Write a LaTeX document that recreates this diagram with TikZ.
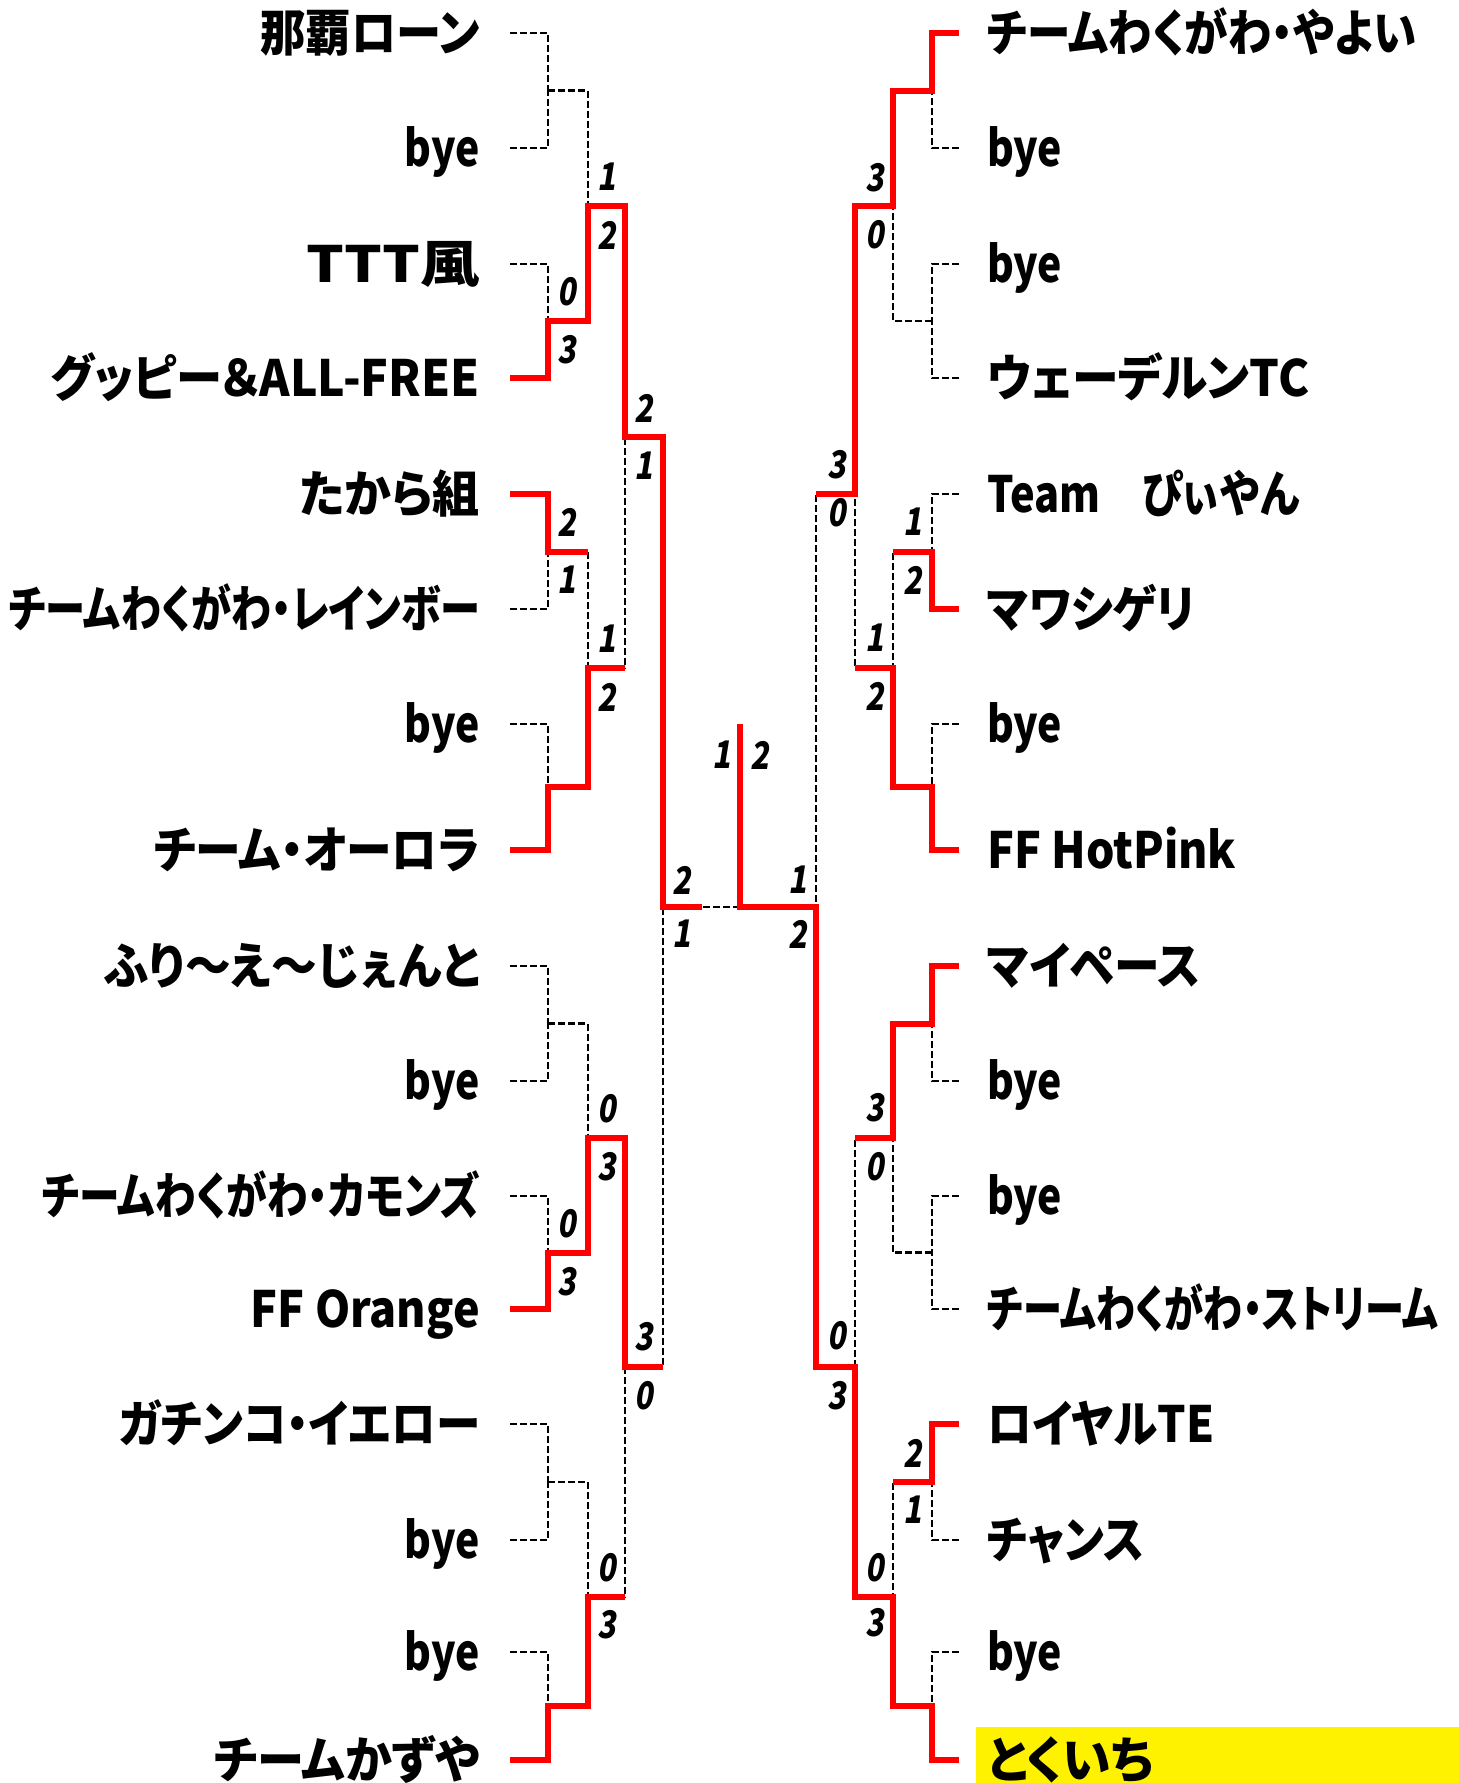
\documentclass[tikz,border=0pt]{standalone}
\usepackage{graphicx}
\usepackage{fontspec}
\newfontfamily\jpf[RawFeature={+palt}]{Noto Sans CJK JP Black}
\newfontfamily\digf[FakeSlant=0.16,FakeStretch=0.8]{Noto Sans CJK JP Black}
\newsavebox\fitbox
\newcommand\fitw[2]{\sbox\fitbox{#2}\pgfmathsetmacro\fitratio{#1/\the\wd\fitbox}\scalebox{\fitratio}[1]{\usebox\fitbox}}
\tikzset{
  team/.style={inner sep=0pt, font=\jpf\fontsize{50}{54}\selectfont},
  lteam/.style={team, anchor=base east},
  rteam/.style={team, anchor=base west},
  pts/.style={inner sep=0pt, font=\digf\fontsize{38}{40}\selectfont},
  br/.style={black, line width=2.4pt, dash pattern=on 7pt off 3pt},
  win/.style={red, line width=6pt, line join=miter}
}
\begin{document}
\begin{tikzpicture}[x=1pt,y=-1pt]
\path[use as bounding box] (0,0) rectangle (1459,1783);
% champion highlight
\fill[yellow] (976,1727) rectangle (1459,1783);
% left teams
\foreach \y/\w/\t [count=\i] in {33/219/那覇ローン, 148/75/bye, 264/173/TTT風, 378/429/グッピー＆ALL-FREE, 494/180/たから組, 609/471/チームわくがわ・レインボー, 724/75/bye, 850/326/チーム・オーロラ, 966/375/ふり〜え〜じぇんと, 1081/75/bye, 1196/438/チームわくがわ・カモンズ, 1309/229/FF Orange, 1424/361/ガチンコ・イエロー, 1540/75/bye, 1652/75/bye, 1760/266/チームかずや}{
  \node[lteam] (lt\i) at (480,\y+18) {\fitw{\w}{\t}};
  \coordinate (ls\i) at (510,\y);
}
% right teams
\foreach \y/\w/\t [count=\i] in {33/429/チームわくがわ・やよい, 148/75/bye, 264/75/bye, 378/322/ウェーデルンTC, 494/312/Team　ぴぃやん, 609/208/マワシゲリ, 724/75/bye, 850/249/FF HotPink, 966/213/マイペース, 1081/75/bye, 1196/75/bye, 1309/451/チームわくがわ・ストリーム, 1424/227/ロイヤルTE, 1540/157/チャンス, 1652/75/bye, 1760/166/とくいち}{
  \node[rteam] (rt\i) at (987,\y+18) {\fitw{\w}{\t}};
  \coordinate (rs\i) at (959,\y);
}
% junctions
\foreach \m [count=\k] in {90.5,321,551.5,787,1023.5,1252.5,1482,1706}{
  \coordinate (la\k) at (548,\m);
  \coordinate (ra\k) at (932,\m);
}
\foreach \m [count=\k] in {206,668,1138,1597}{
  \coordinate (lb\k) at (588,\m);
  \coordinate (rb\k) at (893,\m);
}
\coordinate (lc1) at (625,437);
\coordinate (lc2) at (625,1367);
\coordinate (rc1) at (855,494);
\coordinate (rc2) at (855,1367);
\coordinate (ld) at (663,907);
\coordinate (rd) at (816,907);
\coordinate (lfe) at (702,907);
\coordinate (fin) at (740,907);
\coordinate (top) at (740,724);
% dashed bracket
\foreach \k [evaluate=\k as \a using int(2*\k-1), evaluate=\k as \b using int(2*\k)] in {1,...,8}{
  \draw[br] (ls\a) -| (la\k);
  \draw[br] (ls\b) -| (la\k);
  \draw[br] (rs\a) -| (ra\k);
  \draw[br] (rs\b) -| (ra\k);
}
\foreach \k [evaluate=\k as \a using int(2*\k-1), evaluate=\k as \b using int(2*\k)] in {1,...,4}{
  \draw[br] (la\a) -| (lb\k);
  \draw[br] (la\b) -| (lb\k);
  \draw[br] (ra\a) -| (rb\k);
  \draw[br] (ra\b) -| (rb\k);
}
\foreach \k [evaluate=\k as \a using int(2*\k-1), evaluate=\k as \b using int(2*\k)] in {1,2}{
  \draw[br] (lb\a) -| (lc\k);
  \draw[br] (lb\b) -| (lc\k);
  \draw[br] (rb\a) -| (rc\k);
  \draw[br] (rb\b) -| (rc\k);
}
\draw[br] (lc1) -| (ld);
\draw[br] (lc2) -| (ld);
\draw[br] (rc1) -| (rd);
\draw[br] (rc2) -| (rd);
\draw[br] (ld) -- (fin);
% winners (left)
\draw[win] (ls4) -| (la2) -| (lb1) -| (lc1) -| (ld) -- (lfe);
\draw[win] (ls5) -| (la3) -- (la3 -| lb2);
\draw[win] (ls8) -| (la4) -| (lb2) -- (lb2 -| lc1);
\draw[win] (ls12) -| (la6) -| (lb3) -| (lc2) -- (lc2 -| ld);
\draw[win] (ls16) -| (la8) -| (lb4) -- (lb4 -| lc2);
% winners (right)
\draw[win] (rs1) -| (ra1) -| (rb1) -| (rc1) -- (rc1 -| rd);
\draw[win] (rs6) -| (ra3) -- (ra3 -| rb2);
\draw[win] (rs8) -| (ra4) -| (rb2) -- (rb2 -| rc1);
\draw[win] (rs9) -| (ra5) -| (rb3) -- (rb3 -| rc2);
\draw[win] (rs13) -| (ra7) -- (ra7 -| rb4);
\draw[win] (rs16) -| (ra8) -| (rb4) -| (rc2) -| (rd) -- (fin) -- (top);
% scores
\foreach \x/\y/\s [count=\i] in {
  567/292/0, 567/350/3, 607/177/1, 607/235/2, 644/408/2, 644/466/1,
  567/522/2, 567/580/1, 607/639/1, 607/697/2, 682/880/2, 682/934/1,
  567/1224/0, 567/1282/3, 607/1109/0, 607/1167/3, 644/1337/3, 644/1396/0,
  607/1568/0, 607/1625/3, 722/755/1, 760/755/2,
  875/178/3, 875/235/0, 837/465/3, 837/513/0, 913/522/1, 913/580/2,
  875/638/1, 875/696/2, 798/880/1, 798/934/2, 875/1108/3, 875/1167/0,
  837/1336/0, 837/1396/3, 913/1453/2, 913/1510/1, 875/1568/0, 875/1623/3}{
  \node[pts] (sc\i) at (\x,\y) {\s};
}
\end{tikzpicture}
\end{document}
